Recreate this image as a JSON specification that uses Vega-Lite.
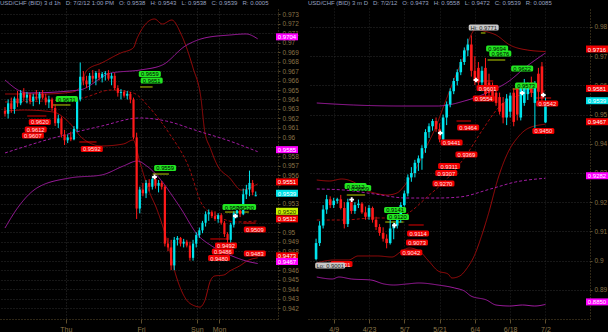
{
"$schema":"https://vega.github.io/schema/vega-lite/v6.json",
"background":"#000000",
"padding":0,
"spacing":30,
"bounds":"flush",
"config":{
 "view":{"stroke":null},
 "font":"Liberation Sans",
 "axis":{"labelColor":"#8a7448","labelFont":"Liberation Sans","labelFontSize":6.5,"tickColor":"#5e4e2c","tickSize":2,"domainColor":"#5e4e2c","domainDash":[1,2],"gridColor":"#2e2e2e","gridDash":[1,2],"labelPadding":2,"labelOverlap":false,"labelBound":false},
 "title":{"color":"#98a0c0","fontSize":6,"font":"Liberation Sans","fontWeight":"normal","anchor":"start","offset":2,"frame":"group"}
},
"datasets":{
"Lc":[
{"i":0,"o":0.9628,"h":0.9632,"l":0.9622,"c":0.9625},{"i":1,"o":0.9625,"h":0.964,"l":0.962,"c":0.9636},{"i":2,"o":0.9636,"h":0.9642,"l":0.9626,"c":0.963},{"i":3,"o":0.963,"h":0.9643,"l":0.9625,"c":0.9641},{"i":4,"o":0.9641,"h":0.9649,"l":0.9632,"c":0.9636},{"i":5,"o":0.9636,"h":0.965,"l":0.9634,"c":0.9647},{"i":6,"o":0.9647,"h":0.9652,"l":0.9638,"c":0.9642},{"i":7,"o":0.9642,"h":0.9648,"l":0.9636,"c":0.9645},{"i":8,"o":0.9645,"h":0.9647,"l":0.9635,"c":0.9638},{"i":9,"o":0.9638,"h":0.9646,"l":0.9633,"c":0.9643},
{"i":10,"o":0.9643,"h":0.965,"l":0.9639,"c":0.9641},{"i":11,"o":0.9641,"h":0.9648,"l":0.9635,"c":0.9646},{"i":12,"o":0.9646,"h":0.965,"l":0.964,"c":0.9642},{"i":13,"o":0.9642,"h":0.9646,"l":0.9634,"c":0.9637},{"i":14,"o":0.9637,"h":0.9644,"l":0.9631,"c":0.964},{"i":15,"o":0.964,"h":0.9642,"l":0.9628,"c":0.9631},{"i":16,"o":0.9631,"h":0.9635,"l":0.9612,"c":0.9615},{"i":17,"o":0.9615,"h":0.9624,"l":0.961,"c":0.962},{"i":18,"o":0.962,"h":0.9622,"l":0.96,"c":0.9603},{"i":19,"o":0.9603,"h":0.9608,"l":0.9592,"c":0.9597},
{"i":20,"o":0.9597,"h":0.9603,"l":0.9594,"c":0.96},{"i":21,"o":0.96,"h":0.9606,"l":0.9596,"c":0.9598},{"i":22,"o":0.9598,"h":0.9612,"l":0.9597,"c":0.9609},{"i":23,"o":0.9609,"h":0.9642,"l":0.9606,"c":0.964},{"i":24,"o":0.964,"h":0.9679,"l":0.9638,"c":0.9664},{"i":25,"o":0.9664,"h":0.967,"l":0.9655,"c":0.966},{"i":26,"o":0.966,"h":0.9665,"l":0.9652,"c":0.9656},{"i":27,"o":0.9656,"h":0.9668,"l":0.965,"c":0.9665},{"i":28,"o":0.9665,"h":0.9671,"l":0.9658,"c":0.9662},{"i":29,"o":0.9662,"h":0.967,"l":0.9655,"c":0.9668},
{"i":30,"o":0.9668,"h":0.9672,"l":0.966,"c":0.9663},{"i":31,"o":0.9663,"h":0.9669,"l":0.9658,"c":0.9667},{"i":32,"o":0.9667,"h":0.967,"l":0.966,"c":0.9668},{"i":33,"o":0.9668,"h":0.9671,"l":0.966,"c":0.9662},{"i":34,"o":0.9662,"h":0.9668,"l":0.9655,"c":0.9665},{"i":35,"o":0.9665,"h":0.9668,"l":0.965,"c":0.9652},{"i":36,"o":0.9652,"h":0.9655,"l":0.9643,"c":0.9647},{"i":37,"o":0.9647,"h":0.9651,"l":0.964,"c":0.9648},{"i":38,"o":0.9648,"h":0.965,"l":0.9642,"c":0.9644},{"i":39,"o":0.9644,"h":0.9649,"l":0.964,"c":0.9646},
{"i":40,"o":0.9646,"h":0.9648,"l":0.9636,"c":0.964},{"i":41,"o":0.964,"h":0.9642,"l":0.9598,"c":0.96},{"i":42,"o":0.96,"h":0.9605,"l":0.9514,"c":0.9525},{"i":43,"o":0.9525,"h":0.9548,"l":0.952,"c":0.9545},{"i":44,"o":0.9545,"h":0.9552,"l":0.9538,"c":0.9541},{"i":45,"o":0.9541,"h":0.9555,"l":0.9536,"c":0.9552},{"i":46,"o":0.9552,"h":0.9556,"l":0.9543,"c":0.9548},{"i":47,"o":0.9548,"h":0.9559,"l":0.9545,"c":0.9556},{"i":48,"o":0.9556,"h":0.9558,"l":0.9546,"c":0.9549},{"i":49,"o":0.9549,"h":0.9555,"l":0.9542,"c":0.9552},
{"i":50,"o":0.9552,"h":0.9554,"l":0.9545,"c":0.9548},{"i":51,"o":0.9548,"h":0.955,"l":0.9485,"c":0.9488},{"i":52,"o":0.9488,"h":0.9494,"l":0.948,"c":0.9484},{"i":53,"o":0.9484,"h":0.9492,"l":0.946,"c":0.9465},{"i":54,"o":0.9465,"h":0.9495,"l":0.946,"c":0.9492},{"i":55,"o":0.9492,"h":0.9496,"l":0.9486,"c":0.9494},{"i":56,"o":0.9494,"h":0.9495,"l":0.9485,"c":0.9488},{"i":57,"o":0.9488,"h":0.9493,"l":0.9484,"c":0.949},{"i":58,"o":0.949,"h":0.9492,"l":0.9484,"c":0.9486},{"i":59,"o":0.9486,"h":0.949,"l":0.947,"c":0.9473},
{"i":60,"o":0.9473,"h":0.9492,"l":0.947,"c":0.9488},{"i":61,"o":0.9488,"h":0.95,"l":0.9484,"c":0.9497},{"i":62,"o":0.9497,"h":0.9505,"l":0.9494,"c":0.9502},{"i":63,"o":0.9502,"h":0.9512,"l":0.9499,"c":0.951},{"i":64,"o":0.951,"h":0.9522,"l":0.9506,"c":0.9519},{"i":65,"o":0.9519,"h":0.9524,"l":0.9512,"c":0.9521},{"i":66,"o":0.9521,"h":0.9523,"l":0.9515,"c":0.9517},{"i":67,"o":0.9517,"h":0.9522,"l":0.9512,"c":0.9514},{"i":68,"o":0.9514,"h":0.952,"l":0.951,"c":0.9518},{"i":69,"o":0.9518,"h":0.952,"l":0.9508,"c":0.951},
{"i":70,"o":0.951,"h":0.9512,"l":0.9495,"c":0.9498},{"i":71,"o":0.9498,"h":0.95,"l":0.9483,"c":0.9492},{"i":72,"o":0.9492,"h":0.951,"l":0.9488,"c":0.9508},{"i":73,"o":0.9508,"h":0.9522,"l":0.9505,"c":0.952},{"i":74,"o":0.952,"h":0.9526,"l":0.9515,"c":0.9523},{"i":75,"o":0.9523,"h":0.9527,"l":0.9516,"c":0.9519},{"i":76,"o":0.9519,"h":0.9546,"l":0.9518,"c":0.954},{"i":77,"o":0.954,"h":0.955,"l":0.9535,"c":0.9545},{"i":78,"o":0.9545,"h":0.9565,"l":0.9538,"c":0.9552},{"i":79,"o":0.9552,"h":0.9555,"l":0.9539,"c":0.9542},
{"i":80,"o":0.9538,"h":0.9543,"l":0.9538,"c":0.9539}
],
"Lb":[
{"s":"ru","i":0,"p":0.96458},{"s":"ru","i":12.3,"p":0.96458},{"s":"ru","i":21.5,"p":0.96479},{"s":"ru","i":23.7,"p":0.96521},{"s":"ru","i":26.2,"p":0.96711},{"s":"ru","i":30.8,"p":0.96785},{"s":"ru","i":36.9,"p":0.9689},{"s":"ru","i":40.9,"p":0.96943},{"s":"ru","i":42.2,"p":0.97049},{"s":"ru","i":47.7,"p":0.97249},{"s":"ru","i":50.2,"p":0.97196},{"s":"ru","i":53.2,"p":0.97238},{"s":"ru","i":56.3,"p":0.9708},{"s":"ru","i":60,"p":0.96732},{"s":"ru","i":62.5,"p":0.96416},{"s":"ru","i":63.7,"p":0.96068},{"s":"ru","i":65.5,"p":0.95888},{"s":"ru","i":67.7,"p":0.95709},{"s":"ru","i":71.7,"p":0.95572},{"s":"ru","i":75.4,"p":0.95445},{"s":"ru","i":80.6,"p":0.9551},
{"s":"rm","i":0,"p":0.96374},{"s":"rm","i":12.3,"p":0.96384},{"s":"rm","i":24.6,"p":0.96416},{"s":"rm","i":33.8,"p":0.965},{"s":"rm","i":40.9,"p":0.96469},{"s":"rm","i":46.2,"p":0.9631},{"s":"rm","i":52.3,"p":0.96047},{"s":"rm","i":58.5,"p":0.95699},{"s":"rm","i":63.1,"p":0.9528},{"s":"rm","i":67.7,"p":0.95171},{"s":"rm","i":73.8,"p":0.95108},{"s":"rm","i":80.6,"p":0.9512},
{"s":"rl","i":0,"p":0.96279},{"s":"rl","i":6.2,"p":0.96289},{"s":"rl","i":15.4,"p":0.96268},{"s":"rl","i":20.6,"p":0.96152},{"s":"rl","i":24.6,"p":0.95994},{"s":"rl","i":30.8,"p":0.9591},{"s":"rl","i":37.8,"p":0.95931},{"s":"rl","i":40.9,"p":0.95973},{"s":"rl","i":43.1,"p":0.9573},{"s":"rl","i":46.2,"p":0.95414},{"s":"rl","i":48.3,"p":0.95256},{"s":"rl","i":50.2,"p":0.95076},{"s":"rl","i":52.3,"p":0.94834},{"s":"rl","i":54.5,"p":0.94549},{"s":"rl","i":57.5,"p":0.94306},{"s":"rl","i":60.6,"p":0.94222},{"s":"rl","i":62.2,"p":0.94211},{"s":"rl","i":63.7,"p":0.94275},{"s":"rl","i":65.5,"p":0.94486},{"s":"rl","i":66.8,"p":0.94538},{"s":"rl","i":69.8,"p":0.94549},{"s":"rl","i":71.7,"p":0.94591},{"s":"rl","i":74.8,"p":0.94644},{"s":"rl","i":77.8,"p":0.94707},{"s":"rl","i":80.6,"p":0.9473},
{"s":"pu","i":0,"p":0.96606},{"s":"pu","i":7.1,"p":0.96469},{"s":"pu","i":23.7,"p":0.965},{"s":"pu","i":33.8,"p":0.96679},{"s":"pu","i":43.1,"p":0.96711},{"s":"pu","i":50.2,"p":0.96764},{"s":"pu","i":57.5,"p":0.96964},{"s":"pu","i":63.7,"p":0.97049},{"s":"pu","i":71.7,"p":0.9708},{"s":"pu","i":76.9,"p":0.97091},{"s":"pu","i":80.6,"p":0.9704},
{"s":"pm","i":0,"p":0.95836},{"s":"pm","i":15.4,"p":0.95994},{"s":"pm","i":30.8,"p":0.9612},{"s":"pm","i":43.1,"p":0.96205},{"s":"pm","i":51.4,"p":0.96173},{"s":"pm","i":61.5,"p":0.96068},{"s":"pm","i":71.7,"p":0.95962},{"s":"pm","i":80.6,"p":0.9585},
{"s":"pl","i":0,"p":0.95045},{"s":"pl","i":4,"p":0.95256},{"s":"pl","i":10.2,"p":0.95467},{"s":"pl","i":20.6,"p":0.95572},{"s":"pl","i":30.8,"p":0.95604},{"s":"pl","i":37.8,"p":0.95699},{"s":"pl","i":42.2,"p":0.95751},{"s":"pl","i":45.2,"p":0.95699},{"s":"pl","i":49.2,"p":0.95572},{"s":"pl","i":53.2,"p":0.95393},{"s":"pl","i":56,"p":0.95256},{"s":"pl","i":61.5,"p":0.94971},{"s":"pl","i":65.5,"p":0.94865},{"s":"pl","i":71.7,"p":0.9476},{"s":"pl","i":76.9,"p":0.94697},{"s":"pl","i":80.6,"p":0.9467}
],
"Lt":[{"p":0.9704,"t":"0.9704","k":"mag"},{"p":0.9585,"t":"0.9585","k":"mag"},{"p":0.9551,"t":"0.9551","k":"red"},{"p":0.9539,"t":"0.9539","k":"cyan"},{"p":0.952,"t":"0.9520","k":"yg"},{"p":0.9512,"t":"0.9512","k":"red"},{"p":0.9473,"t":"0.9473","k":"red"},{"p":0.9467,"t":"0.9467","k":"mag"}],
"Ll":[
{"i":46.2,"p":0.96669,"t":"0.9659","k":"g"},{"i":46.8,"p":0.966,"t":"0.9651","k":"g"},{"i":19.7,"p":0.96405,"t":"0.9631","k":"g"},{"i":51.1,"p":0.95678,"t":"0.9559","k":"g"},{"i":72.9,"p":0.95266,"t":"0.9526","k":"g"},{"i":76.6,"p":0.95266,"t":"0.9520","k":"g"},
{"i":11.1,"p":0.96163,"t":"0.9620","k":"r"},{"i":9.8,"p":0.96084,"t":"0.9612","k":"r"},{"i":8.9,"p":0.9602,"t":"0.9607","k":"r"},{"i":27.7,"p":0.95878,"t":"0.9592","k":"r"},{"i":79.7,"p":0.95029,"t":"0.9509","k":"r"},{"i":70.5,"p":0.9486,"t":"0.9492","k":"r"},{"i":69.5,"p":0.94797,"t":"0.9486","k":"r"},{"i":68.3,"p":0.94728,"t":"0.9480","k":"r"},{"i":79.7,"p":0.94776,"t":"0.9483","k":"r"}
],
"Ls":[{"a":43.1,"b":47.1,"p":0.96532,"k":"y"},{"a":14.8,"b":20.9,"p":0.96342,"k":"y"},{"a":47.1,"b":52.3,"p":0.95614,"k":"y"},{"a":70.2,"b":77.8,"p":0.95213,"k":"y"},{"a":7.1,"b":13.2,"p":0.96226,"k":"r"},{"a":23.7,"b":29.2,"p":0.95952,"k":"r"},{"a":65.5,"b":70.8,"p":0.94929,"k":"r"},{"a":76,"b":80,"p":0.95097,"k":"r"}],
"Lx":[{"i":47.7,"p":0.95583},{"i":73.5,"p":0.95171}],
"Rc":[
{"i":0,"o":0.9005,"h":0.9075,"l":0.9001,"c":0.906},{"i":1,"o":0.906,"h":0.9135,"l":0.905,"c":0.912},{"i":2,"o":0.912,"h":0.919,"l":0.911,"c":0.9175},{"i":3,"o":0.9175,"h":0.9225,"l":0.916,"c":0.921},{"i":4,"o":0.921,"h":0.922,"l":0.918,"c":0.919},{"i":5,"o":0.919,"h":0.9215,"l":0.918,"c":0.9205},{"i":6,"o":0.9205,"h":0.9215,"l":0.9195,"c":0.921},{"i":7,"o":0.921,"h":0.9225,"l":0.9175,"c":0.918},{"i":8,"o":0.918,"h":0.92,"l":0.911,"c":0.9125},{"i":9,"o":0.9125,"h":0.9212,"l":0.9115,"c":0.92},
{"i":10,"o":0.92,"h":0.9205,"l":0.916,"c":0.917},{"i":11,"o":0.917,"h":0.92,"l":0.916,"c":0.919},{"i":12,"o":0.919,"h":0.9209,"l":0.918,"c":0.9195},{"i":13,"o":0.9195,"h":0.92,"l":0.916,"c":0.9165},{"i":14,"o":0.9165,"h":0.9185,"l":0.914,"c":0.915},{"i":15,"o":0.915,"h":0.919,"l":0.914,"c":0.918},{"i":16,"o":0.918,"h":0.9185,"l":0.913,"c":0.914},{"i":17,"o":0.914,"h":0.915,"l":0.9105,"c":0.9115},{"i":18,"o":0.9115,"h":0.9125,"l":0.9085,"c":0.9095},{"i":19,"o":0.9095,"h":0.9114,"l":0.9065,"c":0.9075},
{"i":20,"o":0.9075,"h":0.909,"l":0.9042,"c":0.906},{"i":21,"o":0.906,"h":0.9141,"l":0.9055,"c":0.911},{"i":22,"o":0.911,"h":0.913,"l":0.9073,"c":0.912},{"i":23,"o":0.912,"h":0.916,"l":0.911,"c":0.915},{"i":24,"o":0.915,"h":0.92,"l":0.913,"c":0.919},{"i":25,"o":0.919,"h":0.924,"l":0.9185,"c":0.923},{"i":26,"o":0.923,"h":0.9295,"l":0.922,"c":0.9285},{"i":27,"o":0.9285,"h":0.932,"l":0.927,"c":0.93},{"i":28,"o":0.93,"h":0.9345,"l":0.9285,"c":0.9335},{"i":29,"o":0.9335,"h":0.936,"l":0.9307,"c":0.935},
{"i":30,"o":0.935,"h":0.9395,"l":0.9311,"c":0.9385},{"i":31,"o":0.9385,"h":0.945,"l":0.9369,"c":0.944},{"i":32,"o":0.944,"h":0.947,"l":0.942,"c":0.946},{"i":33,"o":0.946,"h":0.9485,"l":0.9445,"c":0.9478},{"i":34,"o":0.9478,"h":0.949,"l":0.9441,"c":0.945},{"i":35,"o":0.945,"h":0.947,"l":0.9405,"c":0.9415},{"i":36,"o":0.9415,"h":0.95,"l":0.941,"c":0.949},{"i":37,"o":0.949,"h":0.9545,"l":0.9464,"c":0.9535},{"i":38,"o":0.9535,"h":0.959,"l":0.9525,"c":0.958},{"i":39,"o":0.958,"h":0.9625,"l":0.957,"c":0.9615},
{"i":40,"o":0.9615,"h":0.9655,"l":0.96,"c":0.9645},{"i":41,"o":0.9645,"h":0.969,"l":0.9635,"c":0.968},{"i":42,"o":0.968,"h":0.973,"l":0.967,"c":0.972},{"i":43,"o":0.972,"h":0.976,"l":0.97,"c":0.974},{"i":44,"o":0.974,"h":0.9771,"l":0.963,"c":0.965},{"i":45,"o":0.965,"h":0.97,"l":0.9601,"c":0.9615},{"i":46,"o":0.966,"h":0.968,"l":0.96,"c":0.961},{"i":47,"o":0.961,"h":0.9665,"l":0.958,"c":0.965},{"i":48,"o":0.966,"h":0.9694,"l":0.9554,"c":0.957},{"i":49,"o":0.961,"h":0.964,"l":0.956,"c":0.9575},
{"i":50,"o":0.959,"h":0.961,"l":0.9545,"c":0.9555},{"i":51,"o":0.9575,"h":0.959,"l":0.953,"c":0.954},{"i":52,"o":0.956,"h":0.9575,"l":0.95,"c":0.951},{"i":53,"o":0.954,"h":0.956,"l":0.947,"c":0.949},{"i":54,"o":0.949,"h":0.957,"l":0.9464,"c":0.9555},{"i":55,"o":0.951,"h":0.9575,"l":0.949,"c":0.9565},{"i":56,"o":0.9575,"h":0.959,"l":0.946,"c":0.9475},{"i":57,"o":0.959,"h":0.9605,"l":0.948,"c":0.95},{"i":58,"o":0.949,"h":0.96,"l":0.948,"c":0.959},{"i":59,"o":0.954,"h":0.9622,"l":0.953,"c":0.9605},
{"i":60,"o":0.957,"h":0.961,"l":0.955,"c":0.96},{"i":61,"o":0.961,"h":0.963,"l":0.956,"c":0.9575},{"i":62,"o":0.954,"h":0.9615,"l":0.945,"c":0.9605},{"i":63,"o":0.964,"h":0.966,"l":0.9542,"c":0.958},{"i":64,"o":0.9665,"h":0.968,"l":0.9542,"c":0.9555},{"i":65,"o":0.9473,"h":0.9558,"l":0.9472,"c":0.9539}
],
"Rb":[
{"s":"ru","i":0.2,"p":0.9276},{"s":"ru","i":3.8,"p":0.92726},{"s":"ru","i":7.3,"p":0.92794},{"s":"ru","i":10.6,"p":0.92691},{"s":"ru","i":13.9,"p":0.92417},{"s":"ru","i":16.6,"p":0.92315},{"s":"ru","i":20.2,"p":0.92246},{"s":"ru","i":22.9,"p":0.92315},{"s":"ru","i":25.6,"p":0.92657},{"s":"ru","i":28.4,"p":0.93171},{"s":"ru","i":31.1,"p":0.93856},{"s":"ru","i":33.8,"p":0.94541},{"s":"ru","i":36.5,"p":0.95397},{"s":"ru","i":39.3,"p":0.96253},{"s":"ru","i":42,"p":0.9704},{"s":"ru","i":43.9,"p":0.97725},{"s":"ru","i":45.3,"p":0.97931},{"s":"ru","i":47.5,"p":0.97862},{"s":"ru","i":51,"p":0.97725},{"s":"ru","i":54.9,"p":0.97383},{"s":"ru","i":59.8,"p":0.97212},{"s":"ru","i":65,"p":0.9716},
{"s":"rm","i":0.2,"p":0.9139},{"s":"rm","i":7.9,"p":0.9139},{"s":"rm","i":16.1,"p":0.91459},{"s":"rm","i":22.9,"p":0.91459},{"s":"rm","i":27,"p":0.91699},{"s":"rm","i":31.1,"p":0.92143},{"s":"rm","i":36.5,"p":0.92726},{"s":"rm","i":42,"p":0.93513},{"s":"rm","i":47.5,"p":0.94541},{"s":"rm","i":51.6,"p":0.95226},{"s":"rm","i":57,"p":0.95636},{"s":"rm","i":65,"p":0.9581},
{"s":"rl","i":0.2,"p":0.89918},{"s":"rl","i":5.1,"p":0.90021},{"s":"rl","i":9.2,"p":0.90021},{"s":"rl","i":11.9,"p":0.90158},{"s":"rl","i":17.4,"p":0.90158},{"s":"rl","i":21.5,"p":0.90123},{"s":"rl","i":24.3,"p":0.90329},{"s":"rl","i":26.4,"p":0.90431},{"s":"rl","i":29.2,"p":0.90329},{"s":"rl","i":31.9,"p":0.89987},{"s":"rl","i":34.6,"p":0.89643},{"s":"rl","i":37.4,"p":0.89541},{"s":"rl","i":38.5,"p":0.89404},{"s":"rl","i":40.7,"p":0.89472},{"s":"rl","i":42.8,"p":0.89746},{"s":"rl","i":44.8,"p":0.90158},{"s":"rl","i":46.7,"p":0.90774},{"s":"rl","i":48.9,"p":0.9163},{"s":"rl","i":51.6,"p":0.92828},{"s":"rl","i":54.3,"p":0.93685},{"s":"rl","i":57,"p":0.94198},{"s":"rl","i":60.3,"p":0.94541},{"s":"rl","i":65,"p":0.9467},
{"s":"pu","i":0.2,"p":0.95397},{"s":"pu","i":10.6,"p":0.95328},{"s":"pu","i":24.3,"p":0.95294},{"s":"pu","i":34.6,"p":0.95294},{"s":"pu","i":37.4,"p":0.95328},{"s":"pu","i":42,"p":0.95465},{"s":"pu","i":44.8,"p":0.95568},{"s":"pu","i":48.9,"p":0.95773},{"s":"pu","i":54.3,"p":0.96116},{"s":"pu","i":59.8,"p":0.96664},{"s":"pu","i":65,"p":0.97109},
{"s":"pm","i":0.2,"p":0.92452},{"s":"pm","i":7.9,"p":0.92417},{"s":"pm","i":16.6,"p":0.9228},{"s":"pm","i":25.6,"p":0.92143},{"s":"pm","i":34.6,"p":0.92143},{"s":"pm","i":40.7,"p":0.92178},{"s":"pm","i":49.4,"p":0.92452},{"s":"pm","i":56.5,"p":0.92691},{"s":"pm","i":65,"p":0.9282},
{"s":"pl","i":0.2,"p":0.89438},{"s":"pl","i":4.6,"p":0.8937},{"s":"pl","i":6.5,"p":0.89438},{"s":"pl","i":10,"p":0.8937},{"s":"pl","i":15.5,"p":0.89335},{"s":"pl","i":19.3,"p":0.89198},{"s":"pl","i":22,"p":0.89164},{"s":"pl","i":25.6,"p":0.89198},{"s":"pl","i":29.2,"p":0.89233},{"s":"pl","i":34.6,"p":0.89164},{"s":"pl","i":39.3,"p":0.89061},{"s":"pl","i":42,"p":0.88959},{"s":"pl","i":43.9,"p":0.88787},{"s":"pl","i":48.3,"p":0.8865},{"s":"pl","i":51,"p":0.88479},{"s":"pl","i":54.9,"p":0.88445},{"s":"pl","i":58.5,"p":0.88479},{"s":"pl","i":62,"p":0.88445},{"s":"pl","i":65,"p":0.885}
],
"Rt":[{"p":0.9716,"t":"0.9716","k":"red"},{"p":0.9581,"t":"0.9581","k":"red"},{"p":0.9539,"t":"0.9539","k":"cyan"},{"p":0.9467,"t":"0.9467","k":"red"},{"p":0.9282,"t":"0.9282","k":"mag"},{"p":0.885,"t":"0.8850","k":"mag"}],
"Rl":[
{"i":11.2,"p":0.92554,"t":"0.9212","k":"g"},{"i":12.5,"p":0.92486,"t":"0.9209","k":"g"},{"i":22.4,"p":0.91733,"t":"0.9141","k":"g"},{"i":23.2,"p":0.91493,"t":"0.9120","k":"g"},{"i":51.3,"p":0.97263,"t":"0.9694","k":"g"},{"i":52.2,"p":0.97092,"t":"0.9676","k":"g"},{"i":58.4,"p":0.96578,"t":"0.9622","k":"g"},{"i":59.5,"p":0.95995,"t":"0.9573","k":"g"},
{"i":28.9,"p":0.9093,"t":"0.9114","k":"r"},{"i":28.6,"p":0.9062,"t":"0.9073","k":"r"},{"i":27,"p":0.90277,"t":"0.9042","k":"r"},{"i":7.2,"p":0.89883,"t":"0.9001","k":"r"},{"i":36.1,"p":0.9264,"t":"0.9270","k":"r"},{"i":36.9,"p":0.92999,"t":"0.9307","k":"r"},{"i":37.7,"p":0.93239,"t":"0.9311","k":"r"},{"i":42.6,"p":0.93633,"t":"0.9369","k":"r"},{"i":38.4,"p":0.94044,"t":"0.9441","k":"r"},{"i":47.5,"p":0.95551,"t":"0.9554","k":"r"},{"i":48.6,"p":0.9591,"t":"0.9601","k":"r"},{"i":43.1,"p":0.94558,"t":"0.9464","k":"r"},{"i":65.5,"p":0.9538,"t":"0.9542","k":"r"},{"i":64.4,"p":0.94438,"t":"0.9450","k":"r"}
],
"Rh":[{"i":47.5,"p":0.97982,"t":"Hi: 0.9771"},{"i":4.0,"p":0.89832,"t":"Lo: 0.9001"}],
"Rs":[{"a":8.7,"b":13.9,"p":0.92246,"k":"y"},{"a":19.6,"b":24.8,"p":0.91321,"k":"y"},{"a":48.6,"b":53.6,"p":0.96869,"k":"y"},{"a":55.7,"b":61.1,"p":0.95876,"k":"y"},{"a":46.7,"b":48,"p":0.97794,"k":"y"},{"a":26.2,"b":30.5,"p":0.91219,"k":"r"},{"a":39.8,"b":43.9,"p":0.9478,"k":"r"},{"a":61.7,"b":66.6,"p":0.95568,"k":"r"},{"a":45.3,"b":50.2,"p":0.9615,"k":"r"},{"a":3.8,"b":8.7,"p":0.8992,"k":"r"}],
"Rx":[{"i":10.1,"p":0.9209},{"i":22.2,"p":0.91209},{"i":35.2,"p":0.94369},{"i":45.3,"p":0.96184},{"i":58.4,"p":0.95739},{"i":64.4,"p":0.95671}]
},
"hconcat":[
{
"width":278,"height":311,
"title":{"text":"USD/CHF (BID) 3 d 1h \u00a0 D: 7/2/12 1:00 PM \u00a0 O: 0.9538 \u00a0 H: 0.9543 \u00a0 L: 0.9538 \u00a0 C: 0.9539 \u00a0 R: 0.0005"},
"layer":[
{"data":{"name":"Lb"},"mark":{"type":"line","strokeWidth":1,"interpolate":"monotone"},
 "encoding":{
  "x":{"field":"i","type":"quantitative","title":null,"scale":{"domain":[0,85.5],"nice":false,"zero":false},"axis":{"title":null,"values":[19.4,43.4,61.2,68.3],"labelExpr":"datum.value < 30 ? 'Thu' : datum.value < 50 ? 'Fri' : datum.value < 65 ? 'Sun' : 'Mon'","grid":true,"labelFontSize":7,"tickSize":4}},
  "y":{"field":"p","type":"quantitative","title":null,"scale":{"domain":[0.94085,0.97365],"nice":false,"zero":false},"axis":{"title":null,"orient":"right","values":[0.942,0.943,0.944,0.945,0.946,0.947,0.948,0.949,0.95,0.951,0.952,0.953,0.954,0.955,0.956,0.957,0.958,0.959,0.96,0.961,0.962,0.963,0.964,0.965,0.966,0.967,0.968,0.969,0.97,0.971,0.972,0.973],"labelExpr":"indexof(['0.959','0.955','0.954','0.952','0.951','0.947'], format(datum.value,'.3f')) >= 0 ? '' : format(datum.value,'.3~f')","grid":true,"labelOverlap":false}},
  "color":{"field":"s","type":"nominal","legend":null,"scale":{"domain":["ru","rm","rl","pu","pm","pl"],"range":["#a00c0c","#a00c0c","#a00c0c","#a21ca2","#a21ca2","#a21ca2"]}},
  "strokeDash":{"field":"s","type":"nominal","legend":null,"scale":{"domain":["ru","rm","rl","pu","pm","pl"],"range":[[1,0],[3,2],[1,0],[1,0],[3,2],[1,0]]}}
 }},
{"data":{"name":"Ls"},"mark":{"type":"rule","strokeWidth":1},
 "encoding":{
  "x":{"field":"a","type":"quantitative","title":null,"scale":{"domain":[0,85.5],"nice":false,"zero":false},"axis":{"title":null,"values":[19.4,43.4,61.2,68.3],"labelExpr":"datum.value < 30 ? 'Thu' : datum.value < 50 ? 'Fri' : datum.value < 65 ? 'Sun' : 'Mon'","grid":true,"labelFontSize":7,"tickSize":4}},
  "x2":{"field":"b"},
  "y":{"field":"p","type":"quantitative","title":null,"scale":{"domain":[0.94085,0.97365],"nice":false,"zero":false},"axis":{"title":null,"orient":"right","values":[0.942,0.943,0.944,0.945,0.946,0.947,0.948,0.949,0.95,0.951,0.952,0.953,0.954,0.955,0.956,0.957,0.958,0.959,0.96,0.961,0.962,0.963,0.964,0.965,0.966,0.967,0.968,0.969,0.97,0.971,0.972,0.973],"labelExpr":"indexof(['0.959','0.955','0.954','0.952','0.951','0.947'], format(datum.value,'.3f')) >= 0 ? '' : format(datum.value,'.3~f')","grid":true,"labelOverlap":false}},
  "color":{"condition":{"test":"datum.k=='y'","value":"#b8d000"},"value":"#e00000"}
 }},
{"data":{"name":"Lc"},"mark":{"type":"rule","strokeWidth":1},
 "encoding":{
  "x":{"field":"i","type":"quantitative","title":null,"scale":{"domain":[0,85.5],"nice":false,"zero":false},"axis":{"title":null,"values":[19.4,43.4,61.2,68.3],"labelExpr":"datum.value < 30 ? 'Thu' : datum.value < 50 ? 'Fri' : datum.value < 65 ? 'Sun' : 'Mon'","grid":true,"labelFontSize":7,"tickSize":4}},
  "y":{"field":"l","type":"quantitative","title":null,"scale":{"domain":[0.94085,0.97365],"nice":false,"zero":false},"axis":{"title":null,"orient":"right","values":[0.942,0.943,0.944,0.945,0.946,0.947,0.948,0.949,0.95,0.951,0.952,0.953,0.954,0.955,0.956,0.957,0.958,0.959,0.96,0.961,0.962,0.963,0.964,0.965,0.966,0.967,0.968,0.969,0.97,0.971,0.972,0.973],"labelExpr":"indexof(['0.959','0.955','0.954','0.952','0.951','0.947'], format(datum.value,'.3f')) >= 0 ? '' : format(datum.value,'.3~f')","grid":true,"labelOverlap":false}},
  "y2":{"field":"h"},
  "color":{"condition":{"test":"datum.c >= datum.o","value":"#00e5ee"},"value":"#ff1a1a"}
 }},
{"data":{"name":"Lc"},"mark":{"type":"bar","width":2.2},
 "encoding":{
  "x":{"field":"i","type":"quantitative","title":null,"scale":{"domain":[0,85.5],"nice":false,"zero":false},"axis":{"title":null,"values":[19.4,43.4,61.2,68.3],"labelExpr":"datum.value < 30 ? 'Thu' : datum.value < 50 ? 'Fri' : datum.value < 65 ? 'Sun' : 'Mon'","grid":true,"labelFontSize":7,"tickSize":4}},
  "y":{"field":"o","type":"quantitative","title":null,"scale":{"domain":[0.94085,0.97365],"nice":false,"zero":false},"axis":{"title":null,"orient":"right","values":[0.942,0.943,0.944,0.945,0.946,0.947,0.948,0.949,0.95,0.951,0.952,0.953,0.954,0.955,0.956,0.957,0.958,0.959,0.96,0.961,0.962,0.963,0.964,0.965,0.966,0.967,0.968,0.969,0.97,0.971,0.972,0.973],"labelExpr":"indexof(['0.959','0.955','0.954','0.952','0.951','0.947'], format(datum.value,'.3f')) >= 0 ? '' : format(datum.value,'.3~f')","grid":true,"labelOverlap":false}},
  "y2":{"field":"c"},
  "color":{"condition":{"test":"datum.c >= datum.o","value":"#00e5ee"},"value":"#ff1a1a"}
 }},
{"data":{"name":"Lx"},"mark":{"type":"point","shape":"cross","filled":true,"size":22,"color":"#ffffff","opacity":1},
 "encoding":{
  "x":{"field":"i","type":"quantitative","title":null,"scale":{"domain":[0,85.5],"nice":false,"zero":false},"axis":{"title":null,"values":[19.4,43.4,61.2,68.3],"labelExpr":"datum.value < 30 ? 'Thu' : datum.value < 50 ? 'Fri' : datum.value < 65 ? 'Sun' : 'Mon'","grid":true,"labelFontSize":7,"tickSize":4}},
  "y":{"field":"p","type":"quantitative","title":null,"scale":{"domain":[0.94085,0.97365],"nice":false,"zero":false},"axis":{"title":null,"orient":"right","values":[0.942,0.943,0.944,0.945,0.946,0.947,0.948,0.949,0.95,0.951,0.952,0.953,0.954,0.955,0.956,0.957,0.958,0.959,0.96,0.961,0.962,0.963,0.964,0.965,0.966,0.967,0.968,0.969,0.97,0.971,0.972,0.973],"labelExpr":"indexof(['0.959','0.955','0.954','0.952','0.951','0.947'], format(datum.value,'.3f')) >= 0 ? '' : format(datum.value,'.3~f')","grid":true,"labelOverlap":false}}
 }},
{"data":{"name":"Ll"},"mark":{"type":"point","shape":"M-0.86,-0.27 L0.86,-0.27 Q1,-0.27 1,-0.13 L1,0.13 Q1,0.27 0.86,0.27 L-0.86,0.27 Q-1,0.27 -1,0.13 L-1,-0.13 Q-1,-0.27 -0.86,-0.27 Z","filled":true,"size":484,"opacity":1,"strokeWidth":0},
 "encoding":{
  "x":{"field":"i","type":"quantitative","title":null,"scale":{"domain":[0,85.5],"nice":false,"zero":false},"axis":{"title":null,"values":[19.4,43.4,61.2,68.3],"labelExpr":"datum.value < 30 ? 'Thu' : datum.value < 50 ? 'Fri' : datum.value < 65 ? 'Sun' : 'Mon'","grid":true,"labelFontSize":7,"tickSize":4}},
  "y":{"field":"p","type":"quantitative","title":null,"scale":{"domain":[0.94085,0.97365],"nice":false,"zero":false},"axis":{"title":null,"orient":"right","values":[0.942,0.943,0.944,0.945,0.946,0.947,0.948,0.949,0.95,0.951,0.952,0.953,0.954,0.955,0.956,0.957,0.958,0.959,0.96,0.961,0.962,0.963,0.964,0.965,0.966,0.967,0.968,0.969,0.97,0.971,0.972,0.973],"labelExpr":"indexof(['0.959','0.955','0.954','0.952','0.951','0.947'], format(datum.value,'.3f')) >= 0 ? '' : format(datum.value,'.3~f')","grid":true,"labelOverlap":false}},
  "fill":{"condition":{"test":"datum.k=='g'","value":"#22e622"},"value":"#f00000"}
 }},
{"data":{"name":"Ll"},"mark":{"type":"text","fontSize":5.8,"align":"center","baseline":"middle","dy":0.5},
 "encoding":{
  "x":{"field":"i","type":"quantitative","title":null,"scale":{"domain":[0,85.5],"nice":false,"zero":false},"axis":{"title":null,"values":[19.4,43.4,61.2,68.3],"labelExpr":"datum.value < 30 ? 'Thu' : datum.value < 50 ? 'Fri' : datum.value < 65 ? 'Sun' : 'Mon'","grid":true,"labelFontSize":7,"tickSize":4}},
  "y":{"field":"p","type":"quantitative","title":null,"scale":{"domain":[0.94085,0.97365],"nice":false,"zero":false},"axis":{"title":null,"orient":"right","values":[0.942,0.943,0.944,0.945,0.946,0.947,0.948,0.949,0.95,0.951,0.952,0.953,0.954,0.955,0.956,0.957,0.958,0.959,0.96,0.961,0.962,0.963,0.964,0.965,0.966,0.967,0.968,0.969,0.97,0.971,0.972,0.973],"labelExpr":"indexof(['0.959','0.955','0.954','0.952','0.951','0.947'], format(datum.value,'.3f')) >= 0 ? '' : format(datum.value,'.3~f')","grid":true,"labelOverlap":false}},
  "text":{"field":"t","type":"nominal"},
  "color":{"condition":{"test":"datum.k=='r'","value":"#ffe0e0"},"value":"#000000"}
 }},
{"data":{"name":"Lt"},"mark":{"type":"point","shape":"M-1,-0.318 L1,-0.318 L1,0.318 L-1,0.318 Z","filled":true,"size":484,"opacity":1,"strokeWidth":0,"xOffset":14,"yOffset":-2},
 "encoding":{
  "x":{"datum":85.5,"type":"quantitative","scale":{"domain":[0,85.5],"nice":false,"zero":false},"axis":{"title":null,"values":[19.4,43.4,61.2,68.3],"labelExpr":"datum.value < 30 ? 'Thu' : datum.value < 50 ? 'Fri' : datum.value < 65 ? 'Sun' : 'Mon'","grid":true,"labelFontSize":7,"tickSize":4}},
  "y":{"field":"p","type":"quantitative","title":null,"scale":{"domain":[0.94085,0.97365],"nice":false,"zero":false},"axis":{"title":null,"orient":"right","values":[0.942,0.943,0.944,0.945,0.946,0.947,0.948,0.949,0.95,0.951,0.952,0.953,0.954,0.955,0.956,0.957,0.958,0.959,0.96,0.961,0.962,0.963,0.964,0.965,0.966,0.967,0.968,0.969,0.97,0.971,0.972,0.973],"labelExpr":"indexof(['0.959','0.955','0.954','0.952','0.951','0.947'], format(datum.value,'.3f')) >= 0 ? '' : format(datum.value,'.3~f')","grid":true,"labelOverlap":false}},
  "fill":{"condition":[{"test":"datum.k=='mag'","value":"#ff00ff"},{"test":"datum.k=='cyan'","value":"#00e0e8"},{"test":"datum.k=='yg'","value":"#c6f000"}],"value":"#f00000"}
 }},
{"data":{"name":"Lt"},"mark":{"type":"text","fontSize":6,"align":"center","baseline":"middle","dx":14,"dy":-1.5},
 "encoding":{
  "x":{"datum":85.5,"type":"quantitative","scale":{"domain":[0,85.5],"nice":false,"zero":false},"axis":{"title":null,"values":[19.4,43.4,61.2,68.3],"labelExpr":"datum.value < 30 ? 'Thu' : datum.value < 50 ? 'Fri' : datum.value < 65 ? 'Sun' : 'Mon'","grid":true,"labelFontSize":7,"tickSize":4}},
  "y":{"field":"p","type":"quantitative","title":null,"scale":{"domain":[0.94085,0.97365],"nice":false,"zero":false},"axis":{"title":null,"orient":"right","values":[0.942,0.943,0.944,0.945,0.946,0.947,0.948,0.949,0.95,0.951,0.952,0.953,0.954,0.955,0.956,0.957,0.958,0.959,0.96,0.961,0.962,0.963,0.964,0.965,0.966,0.967,0.968,0.969,0.97,0.971,0.972,0.973],"labelExpr":"indexof(['0.959','0.955','0.954','0.952','0.951','0.947'], format(datum.value,'.3f')) >= 0 ? '' : format(datum.value,'.3~f')","grid":true,"labelOverlap":false}},
  "text":{"field":"t","type":"nominal"},
  "color":{"condition":{"test":"datum.k=='yg'","value":"#203000"},"value":"#ffffff"}
 }},
{"mark":{"type":"text","text":"BollingerBand...","fontSize":6,"align":"right","baseline":"bottom","dy":-2,"color":"#e02020"},
 "encoding":{
  "x":{"datum":85.5,"type":"quantitative","scale":{"domain":[0,85.5],"nice":false,"zero":false},"axis":{"title":null,"values":[19.4,43.4,61.2,68.3],"labelExpr":"datum.value < 30 ? 'Thu' : datum.value < 50 ? 'Fri' : datum.value < 65 ? 'Sun' : 'Mon'","grid":true,"labelFontSize":7,"tickSize":4}},
  "y":{"datum":0.97365,"type":"quantitative","scale":{"domain":[0.94085,0.97365],"nice":false,"zero":false},"axis":{"title":null,"orient":"right","values":[0.942,0.943,0.944,0.945,0.946,0.947,0.948,0.949,0.95,0.951,0.952,0.953,0.954,0.955,0.956,0.957,0.958,0.959,0.96,0.961,0.962,0.963,0.964,0.965,0.966,0.967,0.968,0.969,0.97,0.971,0.972,0.973],"labelExpr":"indexof(['0.959','0.955','0.954','0.952','0.951','0.947'], format(datum.value,'.3f')) >= 0 ? '' : format(datum.value,'.3~f')","grid":true,"labelOverlap":false}}
 }},
{"mark":{"type":"text","text":"2012 \u00a9 TD Ameritrade IP Company, Inc.","fontSize":5,"align":"left","baseline":"top","dx":2,"dy":1,"color":"#7a7a7a"},
 "encoding":{
  "x":{"datum":0,"type":"quantitative","scale":{"domain":[0,85.5],"nice":false,"zero":false},"axis":{"title":null,"values":[19.4,43.4,61.2,68.3],"labelExpr":"datum.value < 30 ? 'Thu' : datum.value < 50 ? 'Fri' : datum.value < 65 ? 'Sun' : 'Mon'","grid":true,"labelFontSize":7,"tickSize":4}},
  "y":{"datum":0.97365,"type":"quantitative","scale":{"domain":[0.94085,0.97365],"nice":false,"zero":false},"axis":{"title":null,"orient":"right","values":[0.942,0.943,0.944,0.945,0.946,0.947,0.948,0.949,0.95,0.951,0.952,0.953,0.954,0.955,0.956,0.957,0.958,0.959,0.96,0.961,0.962,0.963,0.964,0.965,0.966,0.967,0.968,0.969,0.97,0.971,0.972,0.973],"labelExpr":"indexof(['0.959','0.955','0.954','0.952','0.951','0.947'], format(datum.value,'.3f')) >= 0 ? '' : format(datum.value,'.3~f')","grid":true,"labelOverlap":false}}
 }}
]
},
{
"width":282,"height":311,
"title":{"text":"USD/CHF (BID) 3 m D \u00a0 D: 7/2/12 \u00a0 O: 0.9473 \u00a0 H: 0.9558 \u00a0 L: 0.9472 \u00a0 C: 0.9539 \u00a0 R: 0.0085"},
"layer":[
{"data":{"name":"Rb"},"mark":{"type":"line","strokeWidth":1,"interpolate":"monotone"},
 "encoding":{
  "x":{"field":"i","type":"quantitative","title":null,"scale":{"domain":[-0.87,76.2],"nice":false,"zero":false},"axis":{"title":null,"values":[5,15,25,35,45,55,65],"labelExpr":"['4/9','4/23','5/7','5/21','6/4','6/18','7/2'][round((datum.value-5)/10)]","grid":true,"gridColor":"#222222","labelFontSize":7,"tickSize":4}},
  "y":{"field":"p","type":"quantitative","title":null,"scale":{"domain":[0.88,0.9865],"nice":false,"zero":false},"axis":{"title":null,"orient":"right","values":[0.89,0.9,0.91,0.92,0.93,0.94,0.95,0.96,0.97,0.98],"format":".2~f","grid":true,"labelOverlap":false}},
  "color":{"field":"s","type":"nominal","legend":null,"scale":{"domain":["ru","rm","rl","pu","pm","pl"],"range":["#a00c0c","#a00c0c","#a00c0c","#a21ca2","#a21ca2","#a21ca2"]}},
  "strokeDash":{"field":"s","type":"nominal","legend":null,"scale":{"domain":["ru","rm","rl","pu","pm","pl"],"range":[[1,0],[3,2],[1,0],[1,0],[3,2],[1,0]]}}
 }},
{"mark":{"type":"rule","strokeWidth":2,"color":"#1848c8","xOffset":-1},
 "encoding":{
  "x":{"datum":-0.87,"type":"quantitative","scale":{"domain":[-0.87,76.2],"nice":false,"zero":false},"axis":{"title":null,"values":[5,15,25,35,45,55,65],"labelExpr":"['4/9','4/23','5/7','5/21','6/4','6/18','7/2'][round((datum.value-5)/10)]","grid":true,"gridColor":"#222222","labelFontSize":7,"tickSize":4}}
 }},
{"data":{"name":"Rs"},"mark":{"type":"rule","strokeWidth":1},
 "encoding":{
  "x":{"field":"a","type":"quantitative","title":null,"scale":{"domain":[-0.87,76.2],"nice":false,"zero":false},"axis":{"title":null,"values":[5,15,25,35,45,55,65],"labelExpr":"['4/9','4/23','5/7','5/21','6/4','6/18','7/2'][round((datum.value-5)/10)]","grid":true,"gridColor":"#222222","labelFontSize":7,"tickSize":4}},
  "x2":{"field":"b"},
  "y":{"field":"p","type":"quantitative","title":null,"scale":{"domain":[0.88,0.9865],"nice":false,"zero":false},"axis":{"title":null,"orient":"right","values":[0.89,0.9,0.91,0.92,0.93,0.94,0.95,0.96,0.97,0.98],"format":".2~f","grid":true,"labelOverlap":false}},
  "color":{"condition":{"test":"datum.k=='y'","value":"#b8d000"},"value":"#e00000"}
 }},
{"data":{"name":"Rc"},"mark":{"type":"rule","strokeWidth":1},
 "encoding":{
  "x":{"field":"i","type":"quantitative","title":null,"scale":{"domain":[-0.87,76.2],"nice":false,"zero":false},"axis":{"title":null,"values":[5,15,25,35,45,55,65],"labelExpr":"['4/9','4/23','5/7','5/21','6/4','6/18','7/2'][round((datum.value-5)/10)]","grid":true,"gridColor":"#222222","labelFontSize":7,"tickSize":4}},
  "y":{"field":"l","type":"quantitative","title":null,"scale":{"domain":[0.88,0.9865],"nice":false,"zero":false},"axis":{"title":null,"orient":"right","values":[0.89,0.9,0.91,0.92,0.93,0.94,0.95,0.96,0.97,0.98],"format":".2~f","grid":true,"labelOverlap":false}},
  "y2":{"field":"h"},
  "color":{"condition":{"test":"datum.c >= datum.o","value":"#00e5ee"},"value":"#ff1a1a"}
 }},
{"data":{"name":"Rc"},"mark":{"type":"bar","width":2.6},
 "encoding":{
  "x":{"field":"i","type":"quantitative","title":null,"scale":{"domain":[-0.87,76.2],"nice":false,"zero":false},"axis":{"title":null,"values":[5,15,25,35,45,55,65],"labelExpr":"['4/9','4/23','5/7','5/21','6/4','6/18','7/2'][round((datum.value-5)/10)]","grid":true,"gridColor":"#222222","labelFontSize":7,"tickSize":4}},
  "y":{"field":"o","type":"quantitative","title":null,"scale":{"domain":[0.88,0.9865],"nice":false,"zero":false},"axis":{"title":null,"orient":"right","values":[0.89,0.9,0.91,0.92,0.93,0.94,0.95,0.96,0.97,0.98],"format":".2~f","grid":true,"labelOverlap":false}},
  "y2":{"field":"c"},
  "color":{"condition":{"test":"datum.c >= datum.o","value":"#00e5ee"},"value":"#ff1a1a"}
 }},
{"data":{"name":"Rx"},"mark":{"type":"point","shape":"cross","filled":true,"size":22,"color":"#ffffff","opacity":1},
 "encoding":{
  "x":{"field":"i","type":"quantitative","title":null,"scale":{"domain":[-0.87,76.2],"nice":false,"zero":false},"axis":{"title":null,"values":[5,15,25,35,45,55,65],"labelExpr":"['4/9','4/23','5/7','5/21','6/4','6/18','7/2'][round((datum.value-5)/10)]","grid":true,"gridColor":"#222222","labelFontSize":7,"tickSize":4}},
  "y":{"field":"p","type":"quantitative","title":null,"scale":{"domain":[0.88,0.9865],"nice":false,"zero":false},"axis":{"title":null,"orient":"right","values":[0.89,0.9,0.91,0.92,0.93,0.94,0.95,0.96,0.97,0.98],"format":".2~f","grid":true,"labelOverlap":false}}
 }},
{"data":{"name":"Rl"},"mark":{"type":"point","shape":"M-0.86,-0.27 L0.86,-0.27 Q1,-0.27 1,-0.13 L1,0.13 Q1,0.27 0.86,0.27 L-0.86,0.27 Q-1,0.27 -1,0.13 L-1,-0.13 Q-1,-0.27 -0.86,-0.27 Z","filled":true,"size":484,"opacity":1,"strokeWidth":0},
 "encoding":{
  "x":{"field":"i","type":"quantitative","title":null,"scale":{"domain":[-0.87,76.2],"nice":false,"zero":false},"axis":{"title":null,"values":[5,15,25,35,45,55,65],"labelExpr":"['4/9','4/23','5/7','5/21','6/4','6/18','7/2'][round((datum.value-5)/10)]","grid":true,"gridColor":"#222222","labelFontSize":7,"tickSize":4}},
  "y":{"field":"p","type":"quantitative","title":null,"scale":{"domain":[0.88,0.9865],"nice":false,"zero":false},"axis":{"title":null,"orient":"right","values":[0.89,0.9,0.91,0.92,0.93,0.94,0.95,0.96,0.97,0.98],"format":".2~f","grid":true,"labelOverlap":false}},
  "fill":{"condition":{"test":"datum.k=='g'","value":"#22e622"},"value":"#f00000"}
 }},
{"data":{"name":"Rl"},"mark":{"type":"text","fontSize":5.8,"align":"center","baseline":"middle","dy":0.5},
 "encoding":{
  "x":{"field":"i","type":"quantitative","title":null,"scale":{"domain":[-0.87,76.2],"nice":false,"zero":false},"axis":{"title":null,"values":[5,15,25,35,45,55,65],"labelExpr":"['4/9','4/23','5/7','5/21','6/4','6/18','7/2'][round((datum.value-5)/10)]","grid":true,"gridColor":"#222222","labelFontSize":7,"tickSize":4}},
  "y":{"field":"p","type":"quantitative","title":null,"scale":{"domain":[0.88,0.9865],"nice":false,"zero":false},"axis":{"title":null,"orient":"right","values":[0.89,0.9,0.91,0.92,0.93,0.94,0.95,0.96,0.97,0.98],"format":".2~f","grid":true,"labelOverlap":false}},
  "text":{"field":"t","type":"nominal"},
  "color":{"condition":{"test":"datum.k=='r'","value":"#ffe0e0"},"value":"#000000"}
 }},
{"data":{"name":"Rh"},"mark":{"type":"point","shape":"M-0.9,-0.2 L0.9,-0.2 Q1,-0.2 1,-0.1 L1,0.1 Q1,0.2 0.9,0.2 L-0.9,0.2 Q-1,0.2 -1,0.1 L-1,-0.1 Q-1,-0.2 -0.9,-0.2 Z","filled":true,"size":900,"opacity":1,"strokeWidth":0,"color":"#c8c8c8"},
 "encoding":{
  "x":{"field":"i","type":"quantitative","title":null,"scale":{"domain":[-0.87,76.2],"nice":false,"zero":false},"axis":{"title":null,"values":[5,15,25,35,45,55,65],"labelExpr":"['4/9','4/23','5/7','5/21','6/4','6/18','7/2'][round((datum.value-5)/10)]","grid":true,"gridColor":"#222222","labelFontSize":7,"tickSize":4}},
  "y":{"field":"p","type":"quantitative","title":null,"scale":{"domain":[0.88,0.9865],"nice":false,"zero":false},"axis":{"title":null,"orient":"right","values":[0.89,0.9,0.91,0.92,0.93,0.94,0.95,0.96,0.97,0.98],"format":".2~f","grid":true,"labelOverlap":false}}
 }},
{"data":{"name":"Rh"},"mark":{"type":"text","fontSize":5.8,"align":"center","baseline":"middle","dy":0.5,"color":"#202020"},
 "encoding":{
  "x":{"field":"i","type":"quantitative","title":null,"scale":{"domain":[-0.87,76.2],"nice":false,"zero":false},"axis":{"title":null,"values":[5,15,25,35,45,55,65],"labelExpr":"['4/9','4/23','5/7','5/21','6/4','6/18','7/2'][round((datum.value-5)/10)]","grid":true,"gridColor":"#222222","labelFontSize":7,"tickSize":4}},
  "y":{"field":"p","type":"quantitative","title":null,"scale":{"domain":[0.88,0.9865],"nice":false,"zero":false},"axis":{"title":null,"orient":"right","values":[0.89,0.9,0.91,0.92,0.93,0.94,0.95,0.96,0.97,0.98],"format":".2~f","grid":true,"labelOverlap":false}},
  "text":{"field":"t","type":"nominal"}
 }},
{"data":{"name":"Rt"},"mark":{"type":"point","shape":"M-1,-0.318 L1,-0.318 L1,0.318 L-1,0.318 Z","filled":true,"size":484,"opacity":1,"strokeWidth":0,"xOffset":12,"yOffset":-2.5},
 "encoding":{
  "x":{"datum":76.2,"type":"quantitative","scale":{"domain":[-0.87,76.2],"nice":false,"zero":false},"axis":{"title":null,"values":[5,15,25,35,45,55,65],"labelExpr":"['4/9','4/23','5/7','5/21','6/4','6/18','7/2'][round((datum.value-5)/10)]","grid":true,"gridColor":"#222222","labelFontSize":7,"tickSize":4}},
  "y":{"field":"p","type":"quantitative","title":null,"scale":{"domain":[0.88,0.9865],"nice":false,"zero":false},"axis":{"title":null,"orient":"right","values":[0.89,0.9,0.91,0.92,0.93,0.94,0.95,0.96,0.97,0.98],"format":".2~f","grid":true,"labelOverlap":false}},
  "fill":{"condition":[{"test":"datum.k=='mag'","value":"#ff00ff"},{"test":"datum.k=='cyan'","value":"#00e0e8"}],"value":"#f00000"}
 }},
{"data":{"name":"Rt"},"mark":{"type":"text","fontSize":6,"align":"center","baseline":"middle","dx":12,"dy":-2,"color":"#ffffff"},
 "encoding":{
  "x":{"datum":76.2,"type":"quantitative","scale":{"domain":[-0.87,76.2],"nice":false,"zero":false},"axis":{"title":null,"values":[5,15,25,35,45,55,65],"labelExpr":"['4/9','4/23','5/7','5/21','6/4','6/18','7/2'][round((datum.value-5)/10)]","grid":true,"gridColor":"#222222","labelFontSize":7,"tickSize":4}},
  "y":{"field":"p","type":"quantitative","title":null,"scale":{"domain":[0.88,0.9865],"nice":false,"zero":false},"axis":{"title":null,"orient":"right","values":[0.89,0.9,0.91,0.92,0.93,0.94,0.95,0.96,0.97,0.98],"format":".2~f","grid":true,"labelOverlap":false}},
  "text":{"field":"t","type":"nominal"}
 }},
{"mark":{"type":"rule","strokeWidth":2,"color":"#2a2af0"},
 "encoding":{
  "x":{"datum":67.98,"type":"quantitative","scale":{"domain":[-0.87,76.2],"nice":false,"zero":false},"axis":{"title":null,"values":[5,15,25,35,45,55,65],"labelExpr":"['4/9','4/23','5/7','5/21','6/4','6/18','7/2'][round((datum.value-5)/10)]","grid":true,"gridColor":"#222222","labelFontSize":7,"tickSize":4}},
  "y":{"datum":0.97075,"type":"quantitative","scale":{"domain":[0.88,0.9865],"nice":false,"zero":false},"axis":{"title":null,"orient":"right","values":[0.89,0.9,0.91,0.92,0.93,0.94,0.95,0.96,0.97,0.98],"format":".2~f","grid":true,"labelOverlap":false}},
  "x2":{"datum":65.8},
  "y2":{"datum":0.9575}
 }},
{"mark":{"type":"point","shape":"triangle-down","filled":true,"size":45,"color":"#2a2af0","opacity":1},
 "encoding":{
  "x":{"datum":65.72,"type":"quantitative","scale":{"domain":[-0.87,76.2],"nice":false,"zero":false},"axis":{"title":null,"values":[5,15,25,35,45,55,65],"labelExpr":"['4/9','4/23','5/7','5/21','6/4','6/18','7/2'][round((datum.value-5)/10)]","grid":true,"gridColor":"#222222","labelFontSize":7,"tickSize":4}},
  "y":{"datum":0.9566,"type":"quantitative","scale":{"domain":[0.88,0.9865],"nice":false,"zero":false},"axis":{"title":null,"orient":"right","values":[0.89,0.9,0.91,0.92,0.93,0.94,0.95,0.96,0.97,0.98],"format":".2~f","grid":true,"labelOverlap":false}}
 }},
{"mark":{"type":"point","shape":"M-0.91,-0.194 L0.91,-0.194 Q1,-0.194 1,-0.104 L1,0.104 Q1,0.194 0.91,0.194 L-0.91,0.194 Q-1,0.194 -1,0.104 L-1,-0.104 Q-1,-0.194 -0.91,-0.194 Z","filled":true,"size":4489,"opacity":1,"fill":"#ffffff","stroke":"#2a2af0","strokeWidth":1.8},
 "encoding":{
  "x":{"datum":64.6,"type":"quantitative","scale":{"domain":[-0.87,76.2],"nice":false,"zero":false},"axis":{"title":null,"values":[5,15,25,35,45,55,65],"labelExpr":"['4/9','4/23','5/7','5/21','6/4','6/18','7/2'][round((datum.value-5)/10)]","grid":true,"gridColor":"#222222","labelFontSize":7,"tickSize":4}},
  "y":{"datum":0.97297,"type":"quantitative","scale":{"domain":[0.88,0.9865],"nice":false,"zero":false},"axis":{"title":null,"orient":"right","values":[0.89,0.9,0.91,0.92,0.93,0.94,0.95,0.96,0.97,0.98],"format":".2~f","grid":true,"labelOverlap":false}}
 }},
{"mark":{"type":"text","text":"Last kiss goodbye?","fontSize":7.5,"align":"center","baseline":"middle","dy":0.5,"color":"#3b2ed6"},
 "encoding":{
  "x":{"datum":64.6,"type":"quantitative","scale":{"domain":[-0.87,76.2],"nice":false,"zero":false},"axis":{"title":null,"values":[5,15,25,35,45,55,65],"labelExpr":"['4/9','4/23','5/7','5/21','6/4','6/18','7/2'][round((datum.value-5)/10)]","grid":true,"gridColor":"#222222","labelFontSize":7,"tickSize":4}},
  "y":{"datum":0.97297,"type":"quantitative","scale":{"domain":[0.88,0.9865],"nice":false,"zero":false},"axis":{"title":null,"orient":"right","values":[0.89,0.9,0.91,0.92,0.93,0.94,0.95,0.96,0.97,0.98],"format":".2~f","grid":true,"labelOverlap":false}}
 }},
{"mark":{"type":"text","text":"BollingerBands(MA...","fontSize":6,"align":"right","baseline":"bottom","dy":-2,"color":"#e02020"},
 "encoding":{
  "x":{"datum":76.2,"type":"quantitative","scale":{"domain":[-0.87,76.2],"nice":false,"zero":false},"axis":{"title":null,"values":[5,15,25,35,45,55,65],"labelExpr":"['4/9','4/23','5/7','5/21','6/4','6/18','7/2'][round((datum.value-5)/10)]","grid":true,"gridColor":"#222222","labelFontSize":7,"tickSize":4}},
  "y":{"datum":0.9865,"type":"quantitative","scale":{"domain":[0.88,0.9865],"nice":false,"zero":false},"axis":{"title":null,"orient":"right","values":[0.89,0.9,0.91,0.92,0.93,0.94,0.95,0.96,0.97,0.98],"format":".2~f","grid":true,"labelOverlap":false}}
 }},
{"mark":{"type":"text","text":"2012 \u00a9 TD Ameritrade IP Company, Inc.","fontSize":5,"align":"left","baseline":"top","dx":2,"dy":1,"color":"#7a7a7a"},
 "encoding":{
  "x":{"datum":-0.87,"type":"quantitative","scale":{"domain":[-0.87,76.2],"nice":false,"zero":false},"axis":{"title":null,"values":[5,15,25,35,45,55,65],"labelExpr":"['4/9','4/23','5/7','5/21','6/4','6/18','7/2'][round((datum.value-5)/10)]","grid":true,"gridColor":"#222222","labelFontSize":7,"tickSize":4}},
  "y":{"datum":0.9865,"type":"quantitative","scale":{"domain":[0.88,0.9865],"nice":false,"zero":false},"axis":{"title":null,"orient":"right","values":[0.89,0.9,0.91,0.92,0.93,0.94,0.95,0.96,0.97,0.98],"format":".2~f","grid":true,"labelOverlap":false}}
 }}
]
}
]
}
